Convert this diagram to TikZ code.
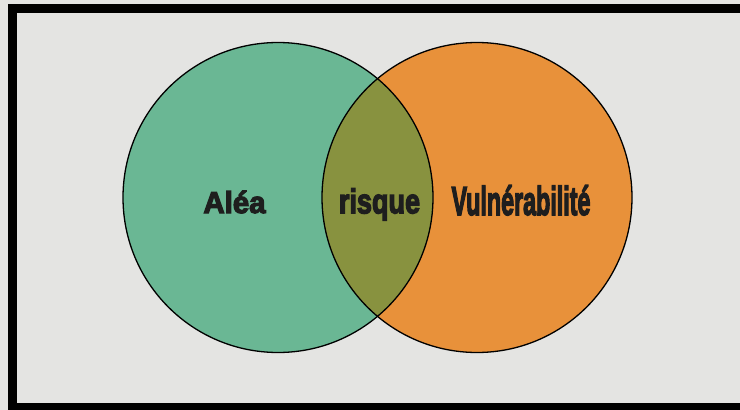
\documentclass[tikz,border=0pt]{standalone}
\usepackage{fontspec}
\usepackage{graphicx}
\newfontfamily\vennfont{Liberation Sans Bold}[FakeBold=4]
\definecolor{bgpaper}{HTML}{E4E4E2}
\definecolor{aleagreen}{HTML}{6AB794}
\definecolor{vulnorange}{HTML}{E8913A}
\definecolor{risqueolive}{HTML}{88923F}
\definecolor{labelink}{HTML}{1E1E1E}
\tikzset{
  vennlabel/.style={anchor=base, inner sep=0pt, text=labelink},
  vennline/.style={draw=black, line width=1.3pt}
}
\begin{document}
\begin{tikzpicture}[x=1pt, y=-1pt]
  \useasboundingbox (0,0) rectangle (740,410);
  % paper background
  \fill[bgpaper] (0,0) rectangle (740,410);
  % black frame (top, left, bottom)
  \fill[black] (8,4) rectangle (740,13);
  \fill[black] (8,4) rectangle (17,410);
  \fill[black] (8,403) rectangle (740,410);
  % circles
  \coordinate (cA) at (278,197.5);
  \coordinate (cV) at (477,197.5);
  \fill[aleagreen] (cA) circle[radius=155];
  \fill[vulnorange] (cV) circle[radius=155];
  \begin{scope}
    \clip (cA) circle[radius=155];
    \fill[risqueolive] (cV) circle[radius=155];
  \end{scope}
  \draw[vennline] (cA) circle[radius=155];
  \draw[vennline] (cV) circle[radius=155];
  % labels
  \node[vennlabel] (alea) at (234.5,213) {\scalebox{1.05}[1.08]{\fontsize{28}{28}\selectfont\vennfont Aléa}};
  \node[vennlabel] (risque) at (379.5,213.3) {\scalebox{0.82}[1.05]{\fontsize{33}{33}\selectfont\vennfont risque}};
  \node[vennlabel] (vuln) at (521,215) {\scalebox{0.575}[1.0]{\fontsize{40.5}{40.5}\selectfont\vennfont Vulnérabilité}};
\end{tikzpicture}
\end{document}
